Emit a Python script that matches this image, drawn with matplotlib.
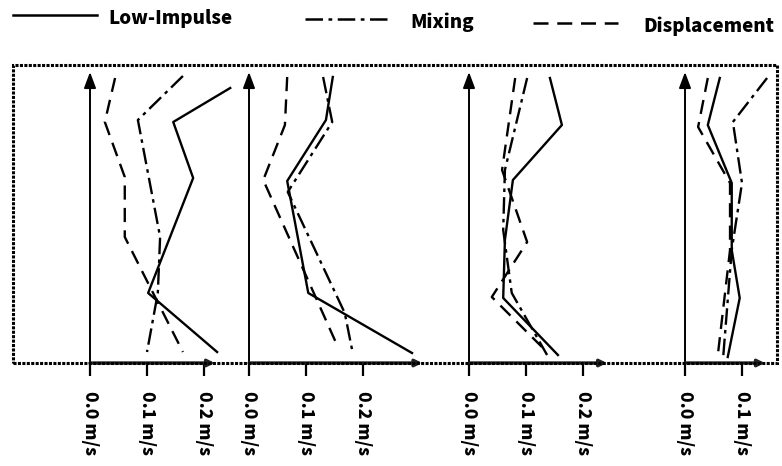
import matplotlib
matplotlib.use("Agg")
import matplotlib.pyplot as plt
from matplotlib.lines import Line2D
from matplotlib.patches import Rectangle

plt.rcParams['font.family'] = ['Noto Sans CJK JP', 'DejaVu Sans']

W, H = 782, 466

## series names and styles
series = ['Low-Impulse', 'Mixing', 'Displacement']
styles = {'Low-Impulse': '-',
          'Mixing': (0, (7, 2.2, 1.5, 2.2)),
          'Displacement': (0, (6, 3.5))}

## velocity profiles (m/s) vs height (m), one dict per panel
p1_h = {'Low-Impulse': [2.75, 2.41, 1.85, 0.70, 0.11],
        'Mixing': [2.87, 2.43, 1.26, 0.70, 0.11],
        'Displacement': [2.85, 2.41, 1.86, 1.26, 0.11]}
p1_v = {'Low-Impulse': [0.246, 0.146, 0.181, 0.102, 0.223],
        'Mixing': [0.163, 0.084, 0.123, 0.119, 0.100],
        'Displacement': [0.044, 0.026, 0.061, 0.061, 0.163]}

p2_h = {'Low-Impulse': [2.86, 2.43, 1.82, 0.70, 0.10],
        'Mixing': [2.86, 2.41, 1.71, 0.50, 0.10],
        'Displacement': [2.86, 2.38, 1.83, 0.16]}
p2_v = {'Low-Impulse': [0.147, 0.135, 0.067, 0.104, 0.286],
        'Mixing': [0.130, 0.146, 0.068, 0.168, 0.182],
        'Displacement': [0.067, 0.063, 0.025, 0.156]}

p3_h = {'Low-Impulse': [2.85, 2.38, 1.83, 1.23, 0.65, 0.08],
        'Mixing': [2.85, 1.93, 1.33, 0.70, 0.08],
        'Displacement': [2.85, 1.93, 1.21, 0.66, 0.16]}
p3_v = {'Low-Impulse': [0.142, 0.163, 0.077, 0.063, 0.060, 0.156],
        'Mixing': [0.102, 0.063, 0.060, 0.075, 0.137],
        'Displacement': [0.081, 0.058, 0.102, 0.040, 0.128]}

p4_h = {'Low-Impulse': [2.85, 2.38, 1.80, 1.13, 0.65, 0.06],
        'Mixing': [2.85, 2.41, 1.80, 1.13, 0.06],
        'Displacement': [2.85, 2.36, 1.80, 1.13, 0.10]}
p4_v = {'Low-Impulse': [0.061, 0.040, 0.082, 0.082, 0.096, 0.075],
        'Mixing': [0.144, 0.084, 0.100, 0.082, 0.067],
        'Displacement': [0.040, 0.023, 0.079, 0.079, 0.058]}

heights = [p1_h, p2_h, p3_h, p4_h]
velocities = [p1_v, p2_v, p3_v, p4_v]
ticks = [[0.0, 0.1, 0.2], [0.0, 0.1, 0.2], [0.0, 0.1, 0.2], [0.0, 0.1]]
tick_labels = [[f'{t:.1f} m/s' for t in tk] for tk in ticks]
arrow_end = [0.219, 0.304, 0.242, 0.140]

## layout (pixels)
origins = [90, 249, 469, 685]
rights = [249, 469, 685, 777]
y_bot, y_top = 363, 65
px_per_ms = 570.0
px_per_m = 100.0

fig = plt.figure(figsize=(W / 100, H / 100), dpi=100)

# dotted frame
fig.patches.append(Rectangle((13 / W, 1 - y_bot / H), (777 - 13) / W, (y_bot - y_top) / H,
                             transform=fig.transFigure, fill=False, color='k',
                             lw=2.2, ls=(0, (1, 0.45)), zorder=0))

for i in range(4):
    x0, x1 = origins[i], rights[i]
    ax = fig.add_axes([x0 / W, 1 - y_bot / H, (x1 - x0) / W, (y_bot - y_top) / H])
    ax.patch.set_alpha(0)
    ax.set_xlim(0, (x1 - x0) / px_per_ms)
    ax.set_ylim(0, (y_bot - y_top) / px_per_m)
    for s in ax.spines.values():
        s.set_visible(False)
    for name in series:
        ax.plot(velocities[i][name], heights[i][name], color='k', lw=1.7,
                linestyle=styles[name], clip_on=False)
    # axes arrows
    ax.annotate('', xy=(0, 2.91), xytext=(0, 0),
                arrowprops=dict(arrowstyle='-|>,head_width=0.3,head_length=0.8', color='k', lw=1.4,
                                mutation_scale=12, shrinkA=0, shrinkB=0))
    ax.annotate('', xy=(arrow_end[i], 0), xytext=(0, 0),
                arrowprops=dict(arrowstyle='-|>', color='#222222', lw=2.4,
                                mutation_scale=10, shrinkA=0, shrinkB=0))
    ax.set_yticks([])
    ax.set_xticks(ticks[i])
    ax.set_xticklabels(tick_labels[i], rotation=-90, fontsize=12.5, fontweight='heavy')
    ax.tick_params(axis='x', direction='out', length=9, width=1.6, pad=11)

# legend
leg_y = [15, 19, 23]
leg_line = [(13, 97), (305, 390), (533, 618)]
leg_text = [108, 410, 643]
for j, name in enumerate(series):
    a, b = leg_line[j]
    fig.add_artist(Line2D([a / W, b / W], [1 - leg_y[j] / H] * 2, color='k', lw=1.8,
                          linestyle=styles[name], transform=fig.transFigure))
    fig.text(leg_text[j] / W, 1 - (leg_y[j] + 3) / H, name, fontsize=13.5, fontweight='heavy',
             ha='left', va='center')

fig.savefig('out.png', dpi=100)
